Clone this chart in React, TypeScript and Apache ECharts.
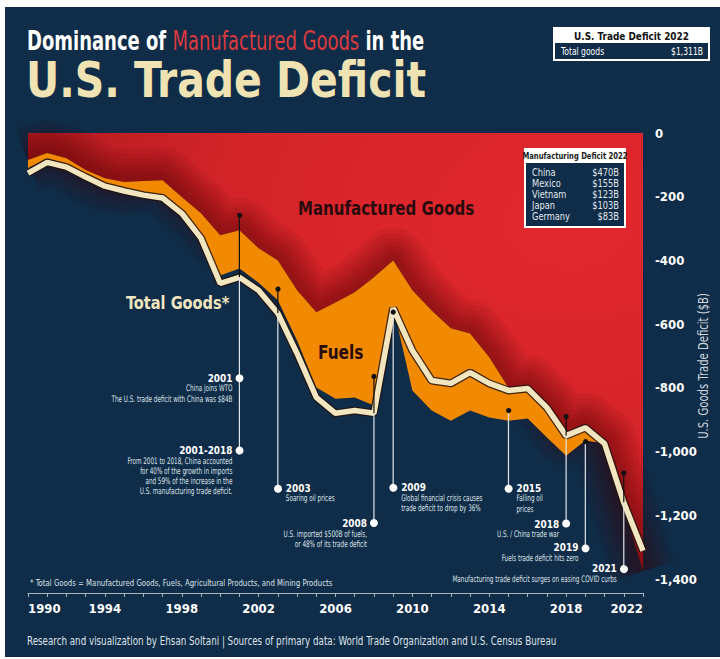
import React, { useEffect, useRef } from 'react';
import * as echarts from 'echarts';

// ---------------- DATA ----------------
const years = [
  1990, 1991, 1992, 1993, 1994, 1995, 1996, 1997, 1998, 1999, 2000,
  2001, 2002, 2003, 2004, 2005, 2006, 2007, 2008, 2009, 2010,
  2011, 2012, 2013, 2014, 2015, 2016, 2017, 2018, 2019, 2020, 2021, 2022,
];
// U.S. goods trade deficit, $B (positive = deficit)
const totalGoodsDeficit = [
  126, 92, 107, 138, 167, 182, 195, 204, 252, 330, 472,
  453, 494, 566, 692, 830, 880, 871, 880, 550, 683,
  777, 786, 752, 786, 808, 802, 862, 950, 925, 975, 1160, 1311,
];
const manufacturedDeficit = [
  85, 63, 79, 116, 142, 154, 151, 148, 201, 252, 321,
  305, 362, 400, 494, 563, 532, 500, 453, 400, 494,
  557, 613, 629, 704, 800, 800, 858, 940, 920, 970, 1175, 1375,
];
const fuelsDeficit = [
  25, 17, 18, 12, 16, 18, 34, 47, 44, 68, 126,
  120, 108, 125, 157, 236, 302, 330, 402, 145, 314,
  314, 290, 242, 189, 103, 96, 98, 73, 45, 5, 0, 0,
];

const totalDeficit2022 = 1311;
const topCountries = ['China', 'Mexico', 'Vietnam', 'Japan', 'Germany'];
const topCountryDeficits = [470, 155, 123, 103, 83];

// annotation stems: year, black-dot value, end value (in $B, negative = deficit)
const stemYears = [2001, 2003, 2008, 2009, 2015, 2018, 2019, 2021];
const stemTops = [-255, -487, -764, -560, -868, -890, -965, -1066];
const stemEnds = [-994, -1113, -1224, -1110, -1113, -1226, -1300, -1365];

// notes: year, value of white dot, side, title, text lines
const noteYears = [2001, 2001, 2003, 2008, 2009, 2015, 2018, 2019, 2021];
const noteValues = [-767, -994, -1113, -1224, -1110, -1113, -1226, -1300, -1365];
const noteSides = ['left', 'left', 'right', 'left', 'right', 'right', 'left', 'left', 'left'];
const noteTitles = ['2001', '2001-2018', '2003', '2008', '2009', '2015', '2018', '2019', '2021'];
const noteLines = [
  ['China joins WTO', 'The U.S. trade deficit with China was $84B'],
  [
    'From 2001 to 2018, China accounted',
    'for 40% of the growth in imports',
    'and 59% of the increase in the',
    'U.S. manufacturing trade deficit.',
  ],
  ['Soaring oil prices'],
  ['U.S. imported $500B of fuels,', 'or 48% of its trade deficit'],
  ['Global financial crisis causes', 'trade deficit to drop by 36%'],
  ['Falling oil', 'prices'],
  ['U.S. / China trade war'],
  ['Fuels trade deficit hits zero'],
  ['Manufacturing trade deficit surges on easing COVID curbs'],
];

// ---------------- STYLE ----------------
const BG = '#0f2c48';
const FONT = '"DejaVu Sans Condensed", "DejaVu Sans", sans-serif';
const CREAM = '#f1e6bf';

type TOpts = {
  size?: number; weight?: string; color?: string; align?: string; va?: string;
  sx?: number; rot?: number; rich?: any; z?: number;
};
function txt(text: string, x: number, y: number, o: TOpts = {}) {
  return {
    type: 'text',
    x, y,
    z: o.z ?? 60,
    scaleX: o.sx ?? 1,
    scaleY: 1,
    rotation: o.rot ?? 0,
    silent: true,
    style: {
      text,
      x: 0, y: 0,
      fill: o.color ?? '#ffffff',
      font: `${o.weight ?? 'normal'} ${o.size ?? 10}px ${FONT}`,
      textAlign: o.align ?? 'left',
      textVerticalAlign: o.va ?? 'middle',
      rich: o.rich,
    },
  };
}
function rect(x: number, y: number, w: number, h: number, fill: string, z = 40) {
  return { type: 'rect', z, silent: true, shape: { x, y, width: w, height: h }, style: { fill } };
}

function staticGraphics() {
  const g: any[] = [];
  // white frame like the reference
  g.push(rect(0, 0, 720, 7, '#ffffff', 1));
  g.push(rect(0, 0, 5, 659, '#ffffff', 1));
  g.push(rect(0, 657, 720, 2, '#ffffff', 1));

  // titles
  g.push(
    txt('{a|Dominance of }{b|Manufactured Goods}{a| in the}', 27, 41, {
      sx: 0.74,
      rich: {
        a: { fill: '#ffffff', fontSize: 27, fontWeight: 'bold', fontFamily: FONT },
        b: { fill: '#db3a3f', fontSize: 27, fontWeight: 'normal', fontFamily: FONT },
      },
    })
  );
  g.push(txt('U.S. Trade Deficit', 26, 80, { size: 50, weight: 'bold', color: '#efe3b4', sx: 0.91 }));

  // top-right box
  g.push(rect(553, 27, 157, 34, '#ffffff'));
  g.push(rect(555, 43, 153, 16, BG, 41));
  g.push(txt('U.S. Trade Deficit 2022', 631.5, 35.5, { size: 11, weight: 'bold', color: '#111111', align: 'center', sx: 0.9 }));
  g.push(txt('Total goods', 561, 51.5, { size: 10, color: '#ffffff', sx: 0.85 }));
  g.push(
    txt('$' + totalDeficit2022.toLocaleString('en-US') + 'B', 703, 51.5, {
      size: 10, color: '#ffffff', align: 'right', sx: 0.85,
    })
  );

  // manufacturing deficit box
  g.push(rect(524, 148, 102, 80, '#ffffff', 45));
  g.push(rect(526, 163, 98, 63, BG, 46));
  g.push(txt('Manufacturing Deficit 2022', 575, 155.5, { size: 9.5, weight: 'bold', color: '#1a1a1a', align: 'center', sx: 0.8, z: 47 }));
  topCountries.forEach((c, i) => {
    const y = 172 + i * 11;
    g.push(txt(c, 532, y, { size: 10, color: '#e3e8ee', sx: 0.92, z: 47 }));
    g.push(txt('$' + topCountryDeficits[i] + 'B', 619, y, { size: 10, color: '#e3e8ee', align: 'right', sx: 0.92, z: 47 }));
  });

  // in-plot labels
  g.push(txt('Manufactured Goods', 298, 208, { size: 19, weight: 'bold', color: '#2a0b0d', sx: 0.88 }));
  g.push(txt('Fuels', 318, 352, { size: 19, weight: 'bold', color: '#2a0b0d', sx: 0.9 }));
  g.push(txt('Total Goods*', 126, 303, { size: 18, weight: 'bold', color: CREAM, sx: 0.9 }));

  // axis name
  g.push(txt('U.S. Goods Trade Deficit ($B)', 703, 366, { size: 14, color: '#cdd4dc', align: 'center', rot: Math.PI / 2, sx: 0.8 }));

  // footnote & footer
  g.push(txt('* Total Goods = Manufactured Goods, Fuels, Agricultural Products, and Mining Products', 30, 583, { size: 9, color: '#dde2e8', sx: 0.86 }));
  g.push(txt('Research and visualization by Ehsan Soltani | Sources of primary data: World Trade Organization and U.S. Census Bureau', 27, 641, { size: 12, color: '#dde2e8', sx: 0.81 }));
  return g;
}

function annotationGraphics(chart: any) {
  const g: any[] = [];
  const px = (yr: number, v: number) =>
    chart.convertToPixel({ xAxisIndex: 0, yAxisIndex: 0 }, [years.indexOf(yr), v]);
  stemYears.forEach((yr, i) => {
    const idx = years.indexOf(yr);
    const lineVal = -totalGoodsDeficit[idx];
    const top = px(yr, stemTops[i]);
    const end = px(yr, stemEnds[i]);
    if (stemTops[i] > lineVal) {
      const mid = px(yr, lineVal);
      g.push({ type: 'line', z: 55, silent: true, shape: { x1: top[0], y1: top[1], x2: mid[0], y2: mid[1] }, style: { stroke: '#111111', lineWidth: 1.2 } });
      g.push({ type: 'line', z: 55, silent: true, shape: { x1: mid[0], y1: mid[1], x2: end[0], y2: end[1] }, style: { stroke: '#dfe5ea', lineWidth: 1.2 } });
    } else {
      g.push({ type: 'line', z: 55, silent: true, shape: { x1: top[0], y1: top[1], x2: end[0], y2: end[1] }, style: { stroke: '#dfe5ea', lineWidth: 1.2 } });
    }
    g.push({ type: 'circle', z: 57, silent: true, shape: { cx: top[0], cy: top[1], r: 2.6 }, style: { fill: '#111111' } });
  });
  noteYears.forEach((yr, i) => {
    const p = px(yr, noteValues[i]);
    g.push({ type: 'circle', z: 57, silent: true, shape: { cx: p[0], cy: p[1], r: 4 }, style: { fill: '#ffffff' } });
    const left = noteSides[i] === 'left';
    const tx = left ? p[0] - 7 : p[0] + 8;
    const align = left ? 'right' : 'left';
    g.push(txt(noteTitles[i], tx, p[1], { size: 11, weight: 'bold', color: '#ffffff', align, sx: 0.9 }));
    noteLines[i].forEach((ln, j) => {
      g.push(txt(ln, tx, p[1] + 11 + j * 10.3, { size: 9, color: '#dde3e9', align, sx: 0.7 }));
    });
  });
  return g;
}

export default function App() {
  const ref = useRef<HTMLDivElement>(null);
  useEffect(() => {
    if (!ref.current) return;
    const chart = echarts.init(ref.current, null, { renderer: 'svg' });
    const neg = (arr: number[]) => arr.map((v) => -v);
    const redFill = new echarts.graphic.RadialGradient(0.88, 0.2, 1.0, [
      { offset: 0, color: '#e2282e' },
      { offset: 0.55, color: '#d42429' },
      { offset: 1, color: '#aa191e' },
    ]);
    const shadeWidths = [66, 56, 46, 37, 29, 21, 13];
    const shades = shadeWidths.map((w, i) => ({
      name: 'shade' + i,
      type: 'line',
      data: neg(manufacturedDeficit),
      symbol: 'none',
      z: 2,
      silent: true,
      lineStyle: { width: w, color: 'rgba(70,0,6,0.075)', join: 'round', cap: 'butt' },
    }));
    const option: any = {
      animation: false,
      backgroundColor: BG,
      grid: { left: 28, right: 77, top: 133, bottom: 80, containLabel: false },
      xAxis: {
        type: 'category',
        data: years.map(String),
        boundaryGap: false,
        offset: 14,
        axisLine: { show: true, onZero: false, lineStyle: { color: '#a9b4bf', width: 1 } },
        axisTick: { show: true, length: 4, interval: 0, lineStyle: { color: '#a9b4bf', width: 1 } },
        splitLine: { show: false },
        axisLabel: {
          interval: 3,
          color: '#ffffff',
          fontFamily: FONT,
          fontWeight: 'bold',
          fontSize: 13,
          margin: 9,
          alignMinLabel: 'left',
          alignMaxLabel: 'right',
        },
      },
      yAxis: {
        type: 'value',
        position: 'right',
        min: -1400,
        max: 0,
        interval: 200,
        axisLine: { show: false },
        axisTick: { show: false },
        splitLine: { show: false },
        axisLabel: {
          color: '#ffffff',
          fontFamily: FONT,
          fontWeight: 'bold',
          fontSize: 13,
          margin: 12,
          align: 'left',
          formatter: (v: number) => v.toLocaleString('en-US'),
        },
      },
      series: [
        {
          name: 'Manufactured Goods',
          type: 'line',
          stack: 'def',
          data: neg(manufacturedDeficit),
          symbol: 'none',
          z: 1,
          lineStyle: { width: 0 },
          areaStyle: { color: redFill, opacity: 1 },
        },
        ...shades,
        {
          name: 'Fuels',
          type: 'line',
          stack: 'def',
          data: neg(fuelsDeficit),
          symbol: 'none',
          z: 3,
          lineStyle: { width: 0 },
          areaStyle: { color: '#f18a00', opacity: 1 },
        },
        {
          name: 'Total outline',
          type: 'line',
          data: neg(totalGoodsDeficit),
          symbol: 'none',
          z: 4,
          lineStyle: { color: 'rgba(35,18,10,0.85)', width: 8 },
        },
        {
          name: 'Total Goods',
          type: 'line',
          data: neg(totalGoodsDeficit),
          symbol: 'none',
          z: 5,
          lineStyle: { color: CREAM, width: 5.5 },
        },
      ],
    };
    chart.setOption(option);
    chart.setOption({ graphic: { elements: [...staticGraphics(), ...annotationGraphics(chart)] } });
    return () => chart.dispose();
  }, []);
  return <div ref={ref} style={{ position: 'absolute', left: 0, top: 0, width: 720, height: 659 }} />;
}
